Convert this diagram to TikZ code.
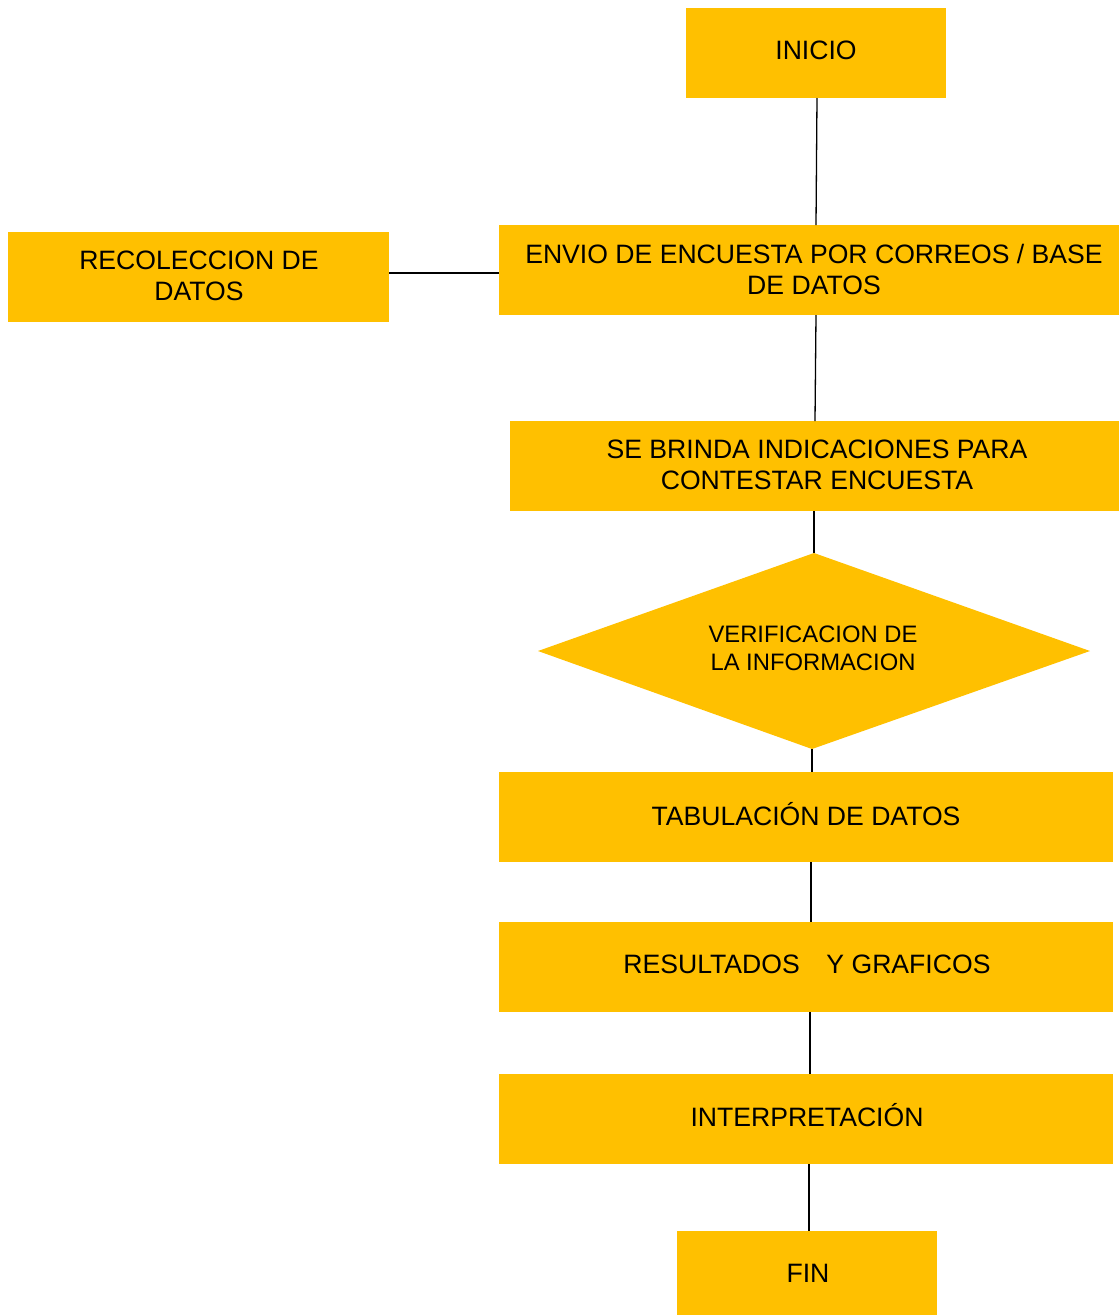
\documentclass[tikz,border=0pt]{standalone}
\usepackage{fontspec}
\setmainfont{Liberation Sans}
\definecolor{boxy}{HTML}{FFC000}
\begin{document}
\begin{tikzpicture}[x=1pt,y=-1pt,
  box/.style={fill=boxy,draw=none,inner sep=0pt},
  txt/.style={inner sep=0pt,align=center,font=\fontsize{26.6}{31}\selectfont},
  conn/.style={line width=1.3pt,black}]
\useasboundingbox (0,0) rectangle (1119,1315);
\node[box,minimum width=260pt,minimum height=90pt] (inicio) at (816,53) {};
\node[txt] (inicio-t) at (816,50) {INICIO};
\node[box,minimum width=620pt,minimum height=90pt] (envio) at (809,270) {};
\node[txt] (envio-t) at (814,269.5) {ENVIO DE ENCUESTA POR CORREOS / BASE\\DE DATOS};
\node[box,minimum width=381pt,minimum height=90pt] (recol) at (198.5,277) {};
\node[txt] (recol-t) at (199,275.5) {RECOLECCION DE\\DATOS};
\node[box,minimum width=609pt,minimum height=90pt] (brinda) at (814.5,466) {};
\node[txt] (brinda-t) at (817,464.5) {SE BRINDA INDICACIONES PARA\\CONTESTAR ENCUESTA};
\path[fill=boxy] (814,553) -- (1090,651) -- (812,749) -- (538,651) -- cycle;
\coordinate (dtop) at (814,553);
\coordinate (dbot) at (812,749);
\node[inner sep=0pt,align=center,font=\fontsize{23.8}{28}\selectfont] (verif) at (813,648) {VERIFICACION DE\\LA INFORMACION};
\node[box,minimum width=614pt,minimum height=90pt] (tab) at (806,817) {};
\node[txt,anchor=base] (tab-t) at (806,825) {TABULACIÓN DE DATOS};
\node[box,minimum width=614pt,minimum height=90pt] (res) at (806,967) {};
\node[txt] (res-t) at (807,964) {RESULTADOS\quad Y GRAFICOS};
\node[box,minimum width=614pt,minimum height=90pt] (interp) at (806,1119) {};
\node[txt,anchor=base] (interp-t) at (807,1126) {INTERPRETACIÓN};
\node[box,minimum width=260pt,minimum height=84pt] (fin) at (807,1273) {};
\node[txt] (fin-t) at (808,1273) {FIN};
\draw[conn] (817,98) -- (816,225);
\draw[conn] (816,315) -- (815,421);
\draw[conn] (814,511) -- (dtop);
\draw[conn] (dbot) -- (812,772);
\draw[conn] (811,862) -- (811,922);
\draw[conn] (810,1012) -- (810,1074);
\draw[conn] (809,1164) -- (809,1231);
\draw[conn] (recol.east |- 0,273) -- (envio.west |- 0,273);
\end{tikzpicture}
\end{document}
